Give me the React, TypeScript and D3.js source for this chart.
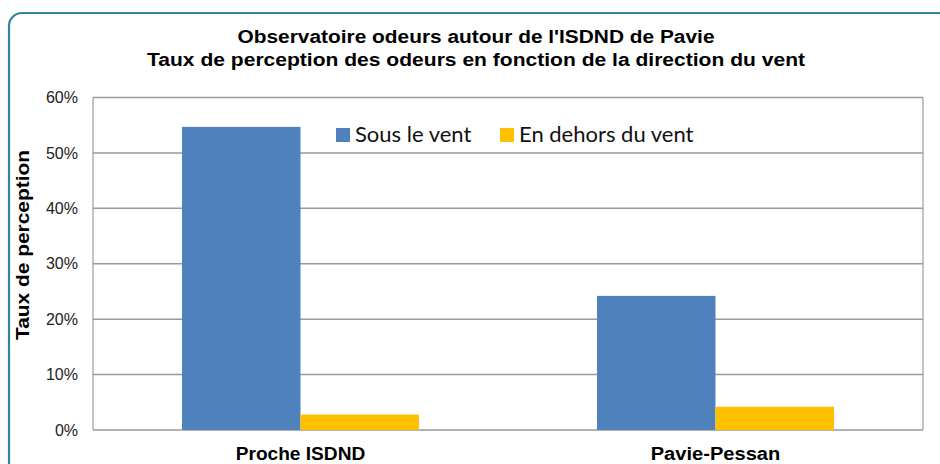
import React, { useEffect, useRef } from "react";
import * as d3 from "d3";

const categories = ["Proche ISDND", "Pavie-Pessan"];
const seriesNames = ["Sous le vent", "En dehors du vent"];
const sousLeVent = [0.547, 0.242];
const horsDuVent = [0.028, 0.042];
const yTicks = [0, 0.1, 0.2, 0.3, 0.4, 0.5, 0.6];
const colors = ["#4F81BD", "#FFC000"];
const titleLines = [
	"Observatoire odeurs autour de l'ISDND de Pavie",
	"Taux de perception des odeurs en fonction de la direction du vent",
];

const W = 940,
	H = 464;
const margin = { left: 93, right: 17, top: 97.5, bottom: 34 };
const FONT = "Liberation Sans, Arial, sans-serif";

export default function App() {
	const ref = useRef<SVGSVGElement>(null);

	useEffect(() => {
		const svg = d3.select(ref.current);
		svg.selectAll("*").remove();

		// outer frame, cut off at right / bottom like the screenshot
		svg
			.append("rect")
			.attr("x", 9)
			.attr("y", 13)
			.attr("width", W + 20)
			.attr("height", H + 20)
			.attr("rx", 13)
			.attr("fill", "#fff")
			.attr("stroke", "#31849B")
			.attr("stroke-width", 2.2);

		const x0 = d3
			.scaleBand()
			.domain(categories)
			.range([margin.left, W - margin.right])
			.paddingInner(0.429)
			.paddingOuter(0.2145);
		const x1 = d3.scaleBand().domain(seriesNames).range([0, x0.bandwidth()]);
		const y = d3
			.scaleLinear()
			.domain([0, 0.6])
			.range([H - margin.bottom, margin.top]);

		const g = svg.append("g");

		// grid
		g.selectAll("line.grid")
			.data(yTicks)
			.enter()
			.append("line")
			.attr("class", "grid")
			.attr("x1", margin.left)
			.attr("x2", W - margin.right)
			.attr("y1", (d) => y(d))
			.attr("y2", (d) => y(d))
			.attr("stroke", "#9a9a9a")
			.attr("stroke-width", 1.5);
		[margin.left, W - margin.right].forEach((xx) => {
			g.append("line")
				.attr("x1", xx)
				.attr("x2", xx)
				.attr("y1", y(0.6))
				.attr("y2", y(0))
				.attr("stroke", "#9a9a9a")
				.attr("stroke-width", 1.2);
		});

		// y tick labels
		g.selectAll("text.ytick")
			.data(yTicks)
			.enter()
			.append("text")
			.attr("x", 78)
			.attr("y", (d) => y(d))
			.attr("dy", "0.35em")
			.attr("text-anchor", "end")
			.style("font-family", FONT)
			.style("font-size", "16px")
			.attr("fill", "#222")
			.text((d) => d3.format(".0%")(d));

		// bars
		const rows = categories.map((c, i) => ({
			cat: c,
			vals: [sousLeVent[i], horsDuVent[i]],
		}));
		const grp = g
			.selectAll("g.cat")
			.data(rows)
			.enter()
			.append("g")
			.attr("transform", (d) => `translate(${x0(d.cat)},0)`);
		grp
			.selectAll("rect")
			.data((d) => d.vals.map((v, j) => ({ v, s: seriesNames[j], j })))
			.enter()
			.append("rect")
			.attr("x", (d) => x1(d.s)!)
			.attr("width", x1.bandwidth())
			.attr("y", (d) => y(d.v))
			.attr("height", (d) => y(0) - y(d.v))
			.attr("fill", (d) => colors[d.j]);

		// x labels (text in the original is a bit stretched horizontally)
		g.selectAll("text.xlab")
			.data(categories)
			.enter()
			.append("text")
			.attr("x", (d) => x0(d)! + x0.bandwidth() / 2)
			.attr("y", 460)
			.attr("text-anchor", "middle")
			.attr("textLength", (d) => d.length * 10.8)
			.attr("lengthAdjust", "spacingAndGlyphs")
			.style("font-family", FONT)
			.style("font-size", "18px")
			.style("font-weight", "bold")
			.text((d) => d);

		// y title
		svg
			.append("text")
			.attr("transform", `translate(29,245) rotate(-90)`)
			.attr("text-anchor", "middle")
			.attr("textLength", 190)
			.attr("lengthAdjust", "spacingAndGlyphs")
			.style("font-family", FONT)
			.style("font-size", "18px")
			.style("font-weight", "bold")
			.text("Taux de perception");

		// title
		const titleW = [477, 658];
		svg
			.selectAll("text.title")
			.data(titleLines)
			.enter()
			.append("text")
			.attr("x", 476)
			.attr("y", (_, i) => 43 + i * 22.5)
			.attr("text-anchor", "middle")
			.attr("textLength", (_, i) => titleW[i])
			.attr("lengthAdjust", "spacingAndGlyphs")
			.style("font-family", FONT)
			.style("font-size", "18px")
			.style("font-weight", "bold")
			.text((d) => d);

		// legend
		const legX = [336, 500];
		const leg = svg
			.selectAll("g.leg")
			.data(seriesNames)
			.enter()
			.append("g")
			.attr("transform", (_, i) => `translate(${legX[i]},128)`);
		leg.append("rect").attr("width", 14).attr("height", 14).attr("fill", (_, i) => colors[i]);
		leg
			.append("text")
			.attr("x", 19)
			.attr("y", 13.5)
			.style("font-family", "Lato, sans-serif")
			.style("font-size", "22px")
			.attr("fill", "#111")
			.text((d) => d);
	}, []);

	return (
		<svg
			ref={ref}
			width={W}
			height={H}
			style={{ position: "absolute", left: 0, top: 0, background: "#fff" }}
		/>
	);
}
